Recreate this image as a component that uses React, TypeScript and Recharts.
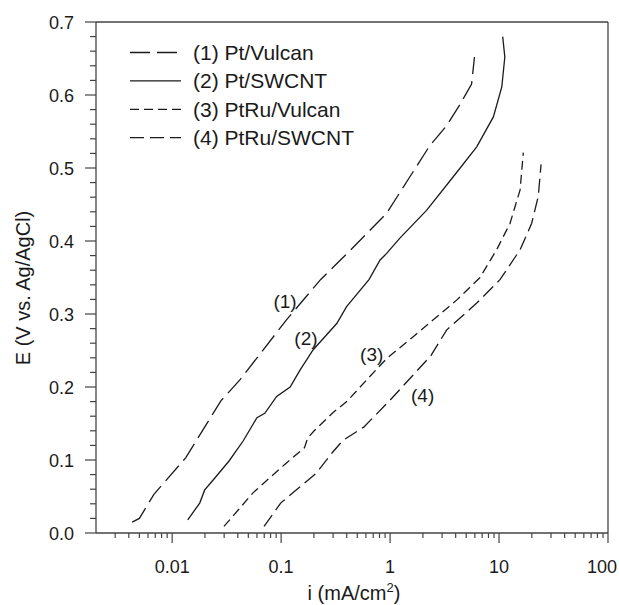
import React from "react";
import { LineChart, Line, XAxis, YAxis, Legend, Label, ReferenceLine, ReferenceDot } from "recharts";

// ---- data (i in mA/cm², E in V vs Ag/AgCl) ----
const ptVulcan = [
  { i: 0.0043, E: 0.015 }, { i: 0.005, E: 0.02 }, { i: 0.0068, E: 0.053 }, { i: 0.0133, E: 0.103 },
  { i: 0.028, E: 0.181 }, { i: 0.042, E: 0.21 }, { i: 0.112, E: 0.292 }, { i: 0.23, E: 0.347 },
  { i: 0.45, E: 0.39 }, { i: 0.93, E: 0.438 }, { i: 1.52, E: 0.488 }, { i: 2.3, E: 0.53 },
  { i: 3.3, E: 0.558 }, { i: 4.3, E: 0.585 }, { i: 5.6, E: 0.615 }, { i: 5.95, E: 0.652 },
];
const ptSWCNT = [
  { i: 0.0139, E: 0.018 }, { i: 0.0179, E: 0.041 }, { i: 0.0199, E: 0.059 }, { i: 0.0239, E: 0.073 },
  { i: 0.0334, E: 0.099 }, { i: 0.0448, E: 0.126 }, { i: 0.06, E: 0.158 }, { i: 0.0708, E: 0.164 },
  { i: 0.091, E: 0.187 }, { i: 0.121, E: 0.2 }, { i: 0.149, E: 0.223 }, { i: 0.197, E: 0.251 },
  { i: 0.324, E: 0.287 }, { i: 0.399, E: 0.31 }, { i: 0.64, E: 0.347 }, { i: 0.81, E: 0.374 },
  { i: 0.93, E: 0.383 }, { i: 1.23, E: 0.404 }, { i: 2.16, E: 0.442 }, { i: 3.8, E: 0.488 },
  { i: 6.24, E: 0.529 }, { i: 8.87, E: 0.57 }, { i: 10.6, E: 0.611 }, { i: 11.3, E: 0.652 },
  { i: 10.8, E: 0.68 },
];
const ptRuVulcan = [
  { i: 0.0299, E: 0.009 }, { i: 0.0552, E: 0.055 }, { i: 0.108, E: 0.094 }, { i: 0.164, E: 0.117 },
  { i: 0.175, E: 0.13 }, { i: 0.201, E: 0.14 }, { i: 0.3, E: 0.165 }, { i: 0.4, E: 0.18 },
  { i: 0.63, E: 0.212 }, { i: 0.93, E: 0.239 }, { i: 1.63, E: 0.269 }, { i: 2.49, E: 0.292 },
  { i: 4.08, E: 0.319 }, { i: 6.69, E: 0.35 }, { i: 9.5, E: 0.388 }, { i: 12.6, E: 0.424 },
  { i: 15.6, E: 0.47 }, { i: 16.7, E: 0.521 },
];
const ptRuSWCNT = [
  { i: 0.0697, E: 0.009 }, { i: 0.099, E: 0.041 }, { i: 0.21, E: 0.082 }, { i: 0.294, E: 0.11 },
  { i: 0.37, E: 0.127 }, { i: 0.573, E: 0.145 }, { i: 1.0, E: 0.182 }, { i: 2.37, E: 0.243 },
  { i: 3.3, E: 0.278 }, { i: 6.24, E: 0.315 }, { i: 10.2, E: 0.347 }, { i: 15.6, E: 0.388 },
  { i: 19.9, E: 0.424 }, { i: 22.9, E: 0.461 }, { i: 24.3, E: 0.505 },
];

const seriesNames = ["(1) Pt/Vulcan", "(2) Pt/SWCNT", "(3) PtRu/Vulcan", "(4) PtRu/SWCNT"];
const seriesData = [ptVulcan, ptSWCNT, ptRuVulcan, ptRuSWCNT];
const seriesDash = ["20 7", "", "9 5", "14 6"];

const curveLabels = ["(1)", "(2)", "(3)", "(4)"];
const curveLabelI = [0.1086, 0.169, 0.678, 1.99];
const curveLabelE = [0.317, 0.266, 0.245, 0.189];

const xMajorTicks = [0.01, 0.1, 1, 10, 100];
const xMinorTicks = [
  0.003, 0.004, 0.005, 0.006, 0.007, 0.008, 0.009,
  0.02, 0.03, 0.04, 0.05, 0.06, 0.07, 0.08, 0.09,
  0.2, 0.3, 0.4, 0.5, 0.6, 0.7, 0.8, 0.9,
  2, 3, 4, 5, 6, 7, 8, 9,
  20, 30, 40, 50, 60, 70, 80, 90,
];
const yMajorTicks = [0, 0.1, 0.2, 0.3, 0.4, 0.5, 0.6, 0.7];
const yMinorTicks = [
  0.02, 0.04, 0.06, 0.08, 0.12, 0.14, 0.16, 0.18, 0.22, 0.24, 0.26, 0.28,
  0.32, 0.34, 0.36, 0.38, 0.42, 0.44, 0.46, 0.48, 0.52, 0.54, 0.56, 0.58,
  0.62, 0.64, 0.66, 0.68,
];

const FONT = "'Liberation Sans', Arial, Helvetica, sans-serif";
const AXIS = "#444";
const INK = "#1a1a1a";

const isIn = (arr: number[], v: number) => arr.some((a) => Math.abs(a - v) < 1e-9);

const XTick = (props: any) => {
  const { x, y, payload } = props;
  const major = isIn(xMajorTicks, payload.value);
  const last = Math.abs(payload.value - xMajorTicks[xMajorTicks.length - 1]) < 1e-9;
  return (
    <g>
      <line x1={x} x2={x} y1={y} y2={y + (major ? 10 : 5)} stroke={AXIS} strokeWidth={1.2} />
      {major && (
        <text x={last ? x + 9 : x} y={y + 40} textAnchor={last ? "end" : "middle"} fontSize={18} fontFamily={FONT} fill={INK}>
          {String(payload.value)}
        </text>
      )}
    </g>
  );
};

const YTick = (props: any) => {
  const { x, y, payload } = props;
  const major = isIn(yMajorTicks, payload.value);
  return (
    <g>
      <line x1={x - (major ? 11 : 6)} x2={x} y1={y} y2={y} stroke={AXIS} strokeWidth={1.2} />
      {major && (
        <text x={x - 22} y={y + 6.5} textAnchor="end" fontSize={18} fontFamily={FONT} fill={INK}>
          {payload.value.toFixed(1)}
        </text>
      )}
    </g>
  );
};

const LegendBox = () => (
  <svg width={400} height={160} style={{ display: "block" }}>
    {seriesNames.map((name, k) => {
      const base = 60 + k * 28.4;
      const ly = base - 7.5;
      return (
        <g key={name}>
          <line x1={130} x2={181} y1={ly} y2={ly} stroke={INK} strokeWidth={1.3}
            strokeDasharray={seriesDash[k] || undefined} />
          <text x={193} y={base} fontSize={21} fontFamily={FONT} fill={INK}>{name}</text>
        </g>
      );
    })}
  </svg>
);

export default function App() {
  return (
    <div style={{ position: "absolute", left: 0, top: 0, width: 619, height: 605, background: "#fff" }}>
      <LineChart width={619} height={605} margin={{ top: 22, right: 11, bottom: 0, left: 0 }}>
        <XAxis
          xAxisId="x"
          dataKey="i"
          type="number"
          scale="log"
          domain={[0.002, 100]}
          allowDataOverflow
          ticks={[...xMinorTicks, ...xMajorTicks]}
          interval={0}
          height={72}
          tickSize={0}
          tickMargin={0}
          tickLine={false}
          tick={<XTick />}
          axisLine={{ stroke: AXIS, strokeWidth: 1.3 }}
        >
          <Label
            content={(p: any) => {
              const vb = p.viewBox || { x: 96, y: 533, width: 512 };
              return (
                <text x={vb.x + vb.width / 2 + 2} y={vb.y + 66.5} textAnchor="middle" fontSize={20} fontFamily={FONT} fill={INK}>
                  <tspan>i (mA/cm</tspan>
                  <tspan dy={-8} fontSize={13}>2</tspan>
                  <tspan dy={8}>)</tspan>
                </text>
              );
            }}
          />
        </XAxis>
        <YAxis
          yAxisId="y"
          type="number"
          domain={[0, 0.7]}
          allowDataOverflow
          ticks={[...yMinorTicks, ...yMajorTicks]}
          interval={0}
          width={96}
          tickSize={0}
          tickMargin={0}
          tickLine={false}
          tick={<YTick />}
          axisLine={{ stroke: AXIS, strokeWidth: 1.3 }}
        >
          <Label
            content={(p: any) => {
              const vb = p.viewBox || { x: 0, y: 22, height: 511 };
              const cx = vb.x + 30;
              const cy = vb.y + vb.height / 2 + 10.5;
              return (
                <text x={cx} y={cy} transform={`rotate(-90 ${cx} ${cy})`} textAnchor="middle" fontSize={20} fontFamily={FONT} fill={INK}>
                  E (V vs. Ag/AgCl)
                </text>
              );
            }}
          />
        </YAxis>
        <ReferenceLine xAxisId="x" yAxisId="y" y={0.7} stroke={AXIS} strokeWidth={1.3} />
        <ReferenceLine xAxisId="x" yAxisId="y" x={100} stroke={AXIS} strokeWidth={1.3} />
        {seriesData.map((d, k) => (
          <Line
            key={seriesNames[k]}
            xAxisId="x"
            yAxisId="y"
            data={d}
            dataKey="E"
            name={seriesNames[k]}
            type="linear"
            stroke={INK}
            strokeWidth={1.3}
            strokeDasharray={seriesDash[k] || undefined}
            dot={false}
            activeDot={false}
            isAnimationActive={false}
          />
        ))}
        {curveLabels.map((t, k) => (
          <ReferenceDot
            key={t}
            xAxisId="x"
            yAxisId="y"
            x={curveLabelI[k]}
            y={curveLabelE[k]}
            r={0}
            fill="none"
            stroke="none"
            label={(p: any) => {
              const vb = p.viewBox || {};
              const cx = (vb.x || 0) + (vb.width || 0) / 2;
              const cy = (vb.y || 0) + (vb.height || 0) / 2;
              return (
                <text x={cx} y={cy + 6.5} textAnchor="middle" fontSize={19} fontFamily={FONT} fill={INK}>
                  {t}
                </text>
              );
            }}
          />
        ))}
        <Legend
          layout="horizontal"
          verticalAlign="middle"
          align="center"
          wrapperStyle={{ position: "absolute", left: 0, top: 0, width: 400, height: 160 }}
          content={() => <LegendBox />}
        />
      </LineChart>
    </div>
  );
}
